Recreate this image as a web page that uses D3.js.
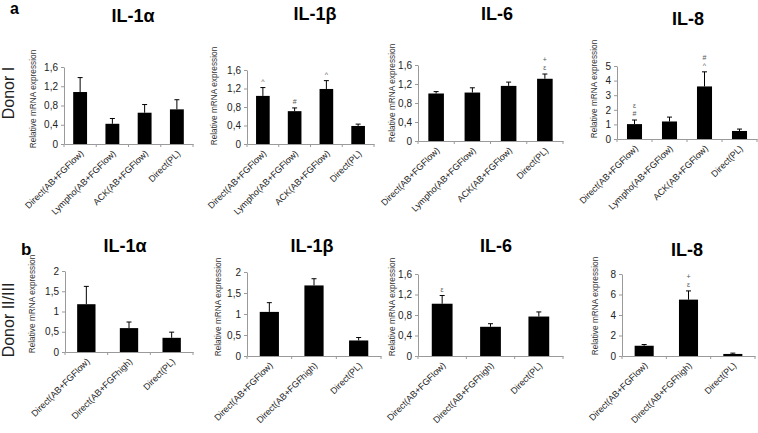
<!DOCTYPE html>
<html><head><meta charset="utf-8">
<script src="https://cdn.jsdelivr.net/npm/d3@7"></script>
<style>body{margin:0;background:#fff} svg{display:block}</style>
</head><body><svg id="c" width="758" height="433"></svg>
<script>
// ---------- data ----------
const catsTop = ["Direct(AB+FGFlow)", "Lympho(AB+FGFlow)", "ACK(AB+FGFlow)", "Direct(PL)"];
const catsBottom = ["Direct(AB+FGFlow)", "Direct(AB+FGFhigh)", "Direct(PL)"];

const il1aTop = [1.08, 0.42, 0.65, 0.72];
const il1aTopErr = [0.30, 0.11, 0.17, 0.20];
const il1bTop = [1.04, 0.71, 1.19, 0.39];
const il1bTopErr = [0.18, 0.07, 0.18, 0.04];
const il1bTopMarks = [["^"], ["#"], ["^"], []];
const il6Top = [1.00, 1.02, 1.16, 1.31];
const il6TopErr = [0.04, 0.10, 0.08, 0.10];
const il6TopMarks = [[], [], [], ["ε", "+"]];
const il8Top = [1.02, 1.20, 3.60, 0.55];
const il8TopErr = [0.28, 0.30, 1.00, 0.13];
const il8TopMarks = [["#", "ε"], [], ["^", "#"], []];

const il1aBot = [1.18, 0.59, 0.35];
const il1aBotErr = [0.44, 0.15, 0.14];
const il1bBot = [1.05, 1.68, 0.37];
const il1bBotErr = [0.22, 0.16, 0.07];
const il6Bot = [1.02, 0.57, 0.77];
const il6BotErr = [0.16, 0.06, 0.09];
const il6BotMarks = [["ε"], [], []];
const il8Bot = [1.00, 5.50, 0.20];
const il8BotErr = [0.12, 0.85, 0.08];
const il8BotMarks = [[], ["ε", "+"], []];

const ticks16 = [0, 0.4, 0.8, 1.2, 1.6];
const tickLabels16 = ["0", "0,4", "0,8", "1,2", "1,6"];
const ticks5 = [0, 1, 2, 3, 4, 5];
const tickLabels5 = ["0", "1", "2", "3", "4", "5"];
const ticks2 = [0, 0.5, 1, 1.5, 2];
const tickLabels2 = ["0", "0,5", "1", "1,5", "2"];
const ticks8 = [0, 2, 4, 6, 8];
const tickLabels8 = ["0", "2", "4", "6", "8"];

const titles = ["IL-1α", "IL-1β", "IL-6", "IL-8"];
const yTitle = "Relative mRNA expression";

// ---------- layout ----------
const FONT = "'Liberation Sans', Arial, Helvetica, sans-serif";
const svg = d3.select("#c");
svg.append("rect").attr("width", 758).attr("height", 433).attr("fill", "#fff");

const panels = [
  {cats: catsTop, vals: il1aTop, err: il1aTopErr, marks: null, ticks: ticks16, labels: tickLabels16, max: 1.6,
   x0: 64, x1: 193, yT: 67, y0: 144, title: titles[0], tx: 133, ty: 22, lx: 36, ly: 99},
  {cats: catsTop, vals: il1bTop, err: il1bTopErr, marks: il1bTopMarks, ticks: ticks16, labels: tickLabels16, max: 1.6,
   x0: 247, x1: 374, yT: 70, y0: 144, title: titles[1], tx: 315, ty: 20, lx: 217, ly: 96},
  {cats: catsTop, vals: il6Top, err: il6TopErr, marks: il6TopMarks, ticks: ticks16, labels: tickLabels16, max: 1.6,
   x0: 418, x1: 563, yT: 65, y0: 141, title: titles[2], tx: 497, ty: 20, lx: 395, ly: 93},
  {cats: catsTop, vals: il8Top, err: il8TopErr, marks: il8TopMarks, ticks: ticks5, labels: tickLabels5, max: 5,
   x0: 617, x1: 757, yT: 66, y0: 139, title: titles[3], tx: 688, ty: 25, lx: 597, ly: 89},
  {cats: catsBottom, vals: il1aBot, err: il1aBotErr, marks: null, ticks: ticks2, labels: tickLabels2, max: 2,
   x0: 65, x1: 193, yT: 271, y0: 352, title: titles[0], tx: 125, ty: 252, lx: 35, ly: 304},
  {cats: catsBottom, vals: il1bBot, err: il1bBotErr, marks: null, ticks: ticks2, labels: tickLabels2, max: 2,
   x0: 247, x1: 381, yT: 272, y0: 356, title: titles[1], tx: 312, ty: 252, lx: 221, ly: 307},
  {cats: catsBottom, vals: il6Bot, err: il6BotErr, marks: il6BotMarks, ticks: ticks16, labels: tickLabels16, max: 1.6,
   x0: 418, x1: 563, yT: 274, y0: 356, title: titles[2], tx: 496, ty: 252, lx: 395, ly: 307},
  {cats: catsBottom, vals: il8Bot, err: il8BotErr, marks: il8BotMarks, ticks: ticks8, labels: tickLabels8, max: 8,
   x0: 622, x1: 755, yT: 274, y0: 356, title: titles[3], tx: 687, ty: 256, lx: 598, ly: 306}
];

function drawPanel(p) {
  const g = svg.append("g");
  const x = d3.scaleBand().domain(p.cats).range([p.x0, p.x1]).paddingInner(0.57).paddingOuter(0.285);
  const y = d3.scaleLinear().domain([0, p.max]).range([p.y0, p.yT]);

  // y axis
  const ya = g.append("g").attr("transform", `translate(${p.x0},0)`)
    .call(d3.axisLeft(y).tickValues(p.ticks).tickSize(3).tickSizeOuter(0).tickPadding(3)
      .tickFormat((d, i) => p.labels[i]));
  ya.attr("font-family", FONT).attr("font-size", 10);
  ya.select(".domain").attr("stroke", "#9a9a9a");
  ya.selectAll(".tick line").attr("stroke", "#9a9a9a");
  ya.selectAll(".tick text").attr("fill", "#222");

  // x axis
  const xa = g.append("g").attr("transform", `translate(0,${p.y0})`)
    .call(d3.axisBottom(x).tickSize(0).tickSizeOuter(0).tickFormat(""));
  xa.select(".domain").attr("stroke", "#9a9a9a");
  const bounds = p.cats.map(c => x(c) + x.bandwidth() / 2 - x.step() / 2);
  bounds.push(x(p.cats[p.cats.length - 1]) + x.bandwidth() / 2 + x.step() / 2);
  xa.selectAll("line.bnd").data(bounds).join("line").attr("class", "bnd")
    .attr("x1", d => d).attr("x2", d => d).attr("y1", 0).attr("y2", 3).attr("stroke", "#9a9a9a");

  // bars
  g.selectAll("rect.bar").data(p.vals).join("rect").attr("class", "bar")
    .attr("x", (d, i) => x(p.cats[i])).attr("width", x.bandwidth())
    .attr("y", d => y(d)).attr("height", d => p.y0 - y(d)).attr("fill", "#000");

  // error bars
  p.vals.forEach((v, i) => {
    const cx = x(p.cats[i]) + x.bandwidth() / 2;
    const top = y(v + p.err[i]);
    g.append("line").attr("x1", cx).attr("x2", cx).attr("y1", y(v)).attr("y2", top).attr("stroke", "#000").attr("stroke-width", 1);
    g.append("line").attr("x1", cx - 2.5).attr("x2", cx + 2.5).attr("y1", top).attr("y2", top).attr("stroke", "#000").attr("stroke-width", 1);
    if (p.marks) {
      p.marks[i].forEach((m, k) => {
        g.append("text").attr("x", cx).attr("y", top - 4 - 8 * k).attr("text-anchor", "middle")
          .attr("font-family", FONT).attr("font-size", 7).attr("fill", "#555").text(m);
      });
    }
    // x label
    g.append("text").attr("transform", `translate(${cx + 4},${p.y0 + 10}) rotate(-45)`)
      .attr("text-anchor", "end").attr("font-family", FONT).attr("font-size", 9).attr("fill", "#222")
      .text(p.cats[i]);
  });

  // title
  g.append("text").attr("x", p.tx).attr("y", p.ty).attr("text-anchor", "middle")
    .attr("font-family", FONT).attr("font-size", 18).attr("font-weight", "bold").attr("fill", "#000").text(p.title);
  // y title
  g.append("text").attr("transform", `translate(${p.lx},${p.ly}) rotate(-90)`).attr("text-anchor", "middle")
    .attr("font-family", FONT).attr("font-size", 8.3).attr("fill", "#333").text(yTitle);
}
panels.forEach(drawPanel);

// panel letters and donor labels
svg.append("text").attr("x", 10).attr("y", 14).attr("font-family", FONT).attr("font-size", 16)
  .attr("font-weight", "bold").text("a");
svg.append("text").attr("x", 21).attr("y", 255).attr("font-family", FONT).attr("font-size", 17)
  .attr("font-weight", "bold").text("b");
svg.append("text").attr("transform", "translate(14,93) rotate(-90)").attr("text-anchor", "middle")
  .attr("font-family", FONT).attr("font-size", 16).attr("fill", "#222").text("Donor I");
svg.append("text").attr("transform", "translate(14,320) rotate(-90)").attr("text-anchor", "middle")
  .attr("font-family", FONT).attr("font-size", 16).attr("fill", "#222").text("Donor II/III");
</script></body></html>
